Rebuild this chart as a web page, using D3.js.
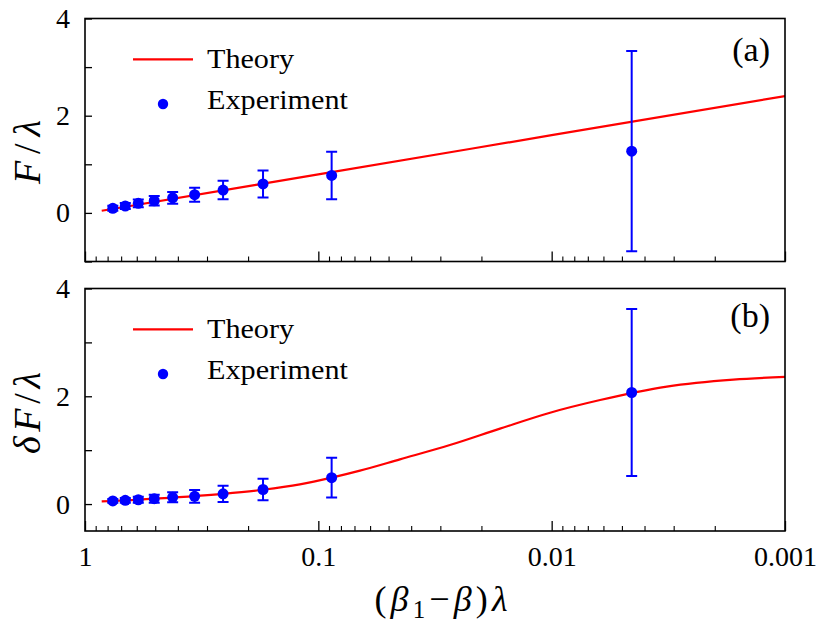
<!DOCTYPE html>
<html>
<head>
<meta charset="utf-8">
<script src="https://cdn.jsdelivr.net/npm/d3@7"></script>
<style>
  html, body { margin: 0; padding: 0; background: #fff; }
  svg { display: block; }
  svg text { font-family: "Liberation Serif", "DejaVu Serif", "Times New Roman", serif; }
</style>
</head>
<body>
<svg id="chart" width="834" height="636"></svg>
<script>
// ---------- data ----------
const xExp   = [0.76, 0.672, 0.591, 0.505, 0.421, 0.339, 0.256, 0.1726, 0.0877, 0.00454];
const FExp   = [0.095, 0.142, 0.197, 0.25, 0.31, 0.375, 0.47, 0.595, 0.77, 1.27];
const FErr   = [0.05, 0.06, 0.08, 0.1, 0.12, 0.145, 0.19, 0.28, 0.49, 2.06];
const dFExp  = [0.057, 0.069, 0.08, 0.1, 0.125, 0.143, 0.19, 0.27, 0.49, 2.07];
const dFErr  = [0.035, 0.045, 0.055, 0.074, 0.093, 0.12, 0.15, 0.2, 0.37, 1.55];

const xThA   = [0.848, 0.1, 0.01, 0.001];
const FTh    = [0.045, 0.793, 1.599, 2.405];

const xThB   = [0.848, 0.76, 0.506, 0.256, 0.173, 0.12, 0.0877, 0.0663, 0.0447, 0.0273, 0.01665, 0.01016, 0.0062, 0.00321, 0.001665, 0.001];
const dFTh   = [0.05, 0.057, 0.10, 0.19, 0.265, 0.365, 0.49, 0.62, 0.83, 1.095, 1.40, 1.695, 1.93, 2.18, 2.31, 2.36];

const xTickValues = [1, 0.1, 0.01, 0.001];
const xTickLabels = ["1", "0.1", "0.01", "0.001"];
const yTicksA = [-1, 0, 1, 2, 3, 4];
const yTicksB = [0, 1, 2, 3, 4];
const yLabelTicks = [0, 2, 4];
const legendLabels = ["Theory", "Experiment"];

// ---------- layout ----------
const FONT = "'Liberation Serif', 'DejaVu Serif', 'Times New Roman', serif";
const svg = d3.select("#chart");
const left = 85, right = 785;
const panels = [
  { top: 18.5, bottom: 261.5, domain: [-1, 4], yTicks: yTicksA, xTh: xThA, yTh: FTh, yExp: FExp, yErr: FErr,
    tag: "(a)", tagY: 61, showX: false, ylab: [{t:"F", i:true},{t:"/", i:false},{t:"λ", i:true}], ylabY: 152, ylabLen: 64 },
  { top: 288.5, bottom: 531, domain: [-0.5, 4], yTicks: yTicksB, xTh: xThB, yTh: dFTh, yExp: dFExp, yErr: dFErr,
    tag: "(b)", tagY: 327, showX: true, ylab: [{t:"δ", i:true},{t:"F", i:true},{t:"/", i:false},{t:"λ", i:true}], ylabY: 413, ylabLen: 82 }
];

const x = d3.scaleLog().domain([1, 0.001]).range([left, right]);
const minorX = x.ticks().filter(v => !xTickValues.some(m => Math.abs(m - v) / m < 1e-9));

const RED = "#ff0000", BLUE = "#0000ff";

panels.forEach(p => {
  const y = d3.scaleLinear().domain(p.domain).range([p.bottom, p.top]);
  const g = svg.append("g");

  const cid = "clip" + p.tag.replace(/\W/g, "");
  svg.append("clipPath").attr("id", cid).append("rect")
    .attr("x", left).attr("y", p.top).attr("width", right - left).attr("height", p.bottom - p.top);

  const xMaj = g.append("g").attr("transform", `translate(0,${p.bottom})`)
    .call(d3.axisBottom(x).tickValues(xTickValues).tickSize(-10).tickPadding(15)
      .tickFormat((d, i) => p.showX ? xTickLabels[i] : ""));
  xMaj.attr("font-family", FONT);
  xMaj.select(".domain").remove();
  xMaj.selectAll("line").attr("stroke", "#000").attr("stroke-width", 1.3);
  xMaj.selectAll("text").attr("font-size", 28).attr("fill", "#000").attr("font-family", FONT);

  const xMin = g.append("g").attr("transform", `translate(0,${p.bottom})`)
    .call(d3.axisBottom(x).tickValues(minorX).tickSize(-5).tickFormat(""));
  xMin.select(".domain").remove();
  xMin.selectAll("line").attr("stroke", "#000").attr("stroke-width", 1.1);

  const yAx = g.append("g").attr("transform", `translate(${left},0)`)
    .call(d3.axisLeft(y).tickValues(p.yTicks).tickSize(-7).tickPadding(15)
      .tickFormat(d => yLabelTicks.includes(d) ? String(d) : ""));
  yAx.attr("font-family", FONT);
  yAx.select(".domain").remove();
  yAx.selectAll("line").attr("stroke", "#000").attr("stroke-width", 1.3);
  yAx.selectAll("text").attr("font-size", 28).attr("fill", "#000").attr("font-family", FONT);

  const line = d3.line().x(d => x(d[0])).y(d => y(d[1])).curve(d3.curveMonotoneX);
  g.append("path")
    .datum(p.xTh.map((v, i) => [v, p.yTh[i]]))
    .attr("d", line).attr("fill", "none").attr("stroke", RED).attr("stroke-width", 2.2)
    .attr("clip-path", `url(#${cid})`);

  const eg = g.append("g").attr("clip-path", `url(#${cid})`);
  const pts = xExp.map((v, i) => ({ x: v, y: p.yExp[i], e: p.yErr[i] }));
  eg.selectAll("line.eb").data(pts).join("line").attr("class", "eb")
    .attr("x1", d => x(d.x)).attr("x2", d => x(d.x))
    .attr("y1", d => y(d.y - d.e)).attr("y2", d => y(d.y + d.e))
    .attr("stroke", BLUE).attr("stroke-width", 2);
  ["lo", "hi"].forEach(k => {
    eg.selectAll("line.cap" + k).data(pts).join("line").attr("class", "cap" + k)
      .attr("x1", d => x(d.x) - 5.5).attr("x2", d => x(d.x) + 5.5)
      .attr("y1", d => y(k === "lo" ? d.y - d.e : d.y + d.e))
      .attr("y2", d => y(k === "lo" ? d.y - d.e : d.y + d.e))
      .attr("stroke", BLUE).attr("stroke-width", 2);
  });
  eg.selectAll("circle").data(pts).join("circle")
    .attr("cx", d => x(d.x)).attr("cy", d => y(d.y)).attr("r", 5.5).attr("fill", BLUE);

  g.append("rect").attr("x", left).attr("y", p.top).attr("width", right - left).attr("height", p.bottom - p.top)
    .attr("fill", "none").attr("stroke", "#000").attr("stroke-width", 1.6);

  g.append("line").attr("x1", 133).attr("x2", 193).attr("y1", p.top + 40.8).attr("y2", p.top + 40.8)
    .attr("stroke", RED).attr("stroke-width", 2.2);
  g.append("circle").attr("cx", 163).attr("cy", p.top + 85.5).attr("r", 5.2).attr("fill", BLUE);
  g.append("text").attr("x", 207).attr("y", p.top + 49).attr("font-size", 28).attr("font-family", FONT)
    .attr("textLength", 87).attr("lengthAdjust", "spacingAndGlyphs").text(legendLabels[0]);
  g.append("text").attr("x", 207).attr("y", p.top + 90.5).attr("font-size", 28).attr("font-family", FONT)
    .attr("textLength", 141).attr("lengthAdjust", "spacingAndGlyphs").text(legendLabels[1]);

  g.append("text").attr("x", 770).attr("y", p.tagY).attr("text-anchor", "end").attr("font-size", 34)
    .attr("font-family", FONT).text(p.tag);

  const yl = g.append("text").attr("transform", `translate(40,${p.ylabY}) rotate(-90)`)
    .attr("text-anchor", "middle").attr("font-size", 38).attr("font-family", FONT)
    .attr("textLength", p.ylabLen).attr("lengthAdjust", "spacing");
  p.ylab.forEach(s => yl.append("tspan").attr("font-style", s.i ? "italic" : "normal").text(s.t));
});

const xl = svg.append("text").attr("x", 441).attr("y", 611).attr("text-anchor", "middle")
  .attr("font-size", 36).attr("font-family", FONT)
  .attr("textLength", 133).attr("lengthAdjust", "spacing");
xl.append("tspan").text("(");
xl.append("tspan").attr("font-style", "italic").text("β");
xl.append("tspan").attr("font-size", 25).attr("dy", 7).text("1");
xl.append("tspan").attr("dy", -7).text("−");
xl.append("tspan").attr("font-style", "italic").text("β");
xl.append("tspan").text(")");
xl.append("tspan").attr("font-style", "italic").text("λ");
</script>
</body>
</html>
